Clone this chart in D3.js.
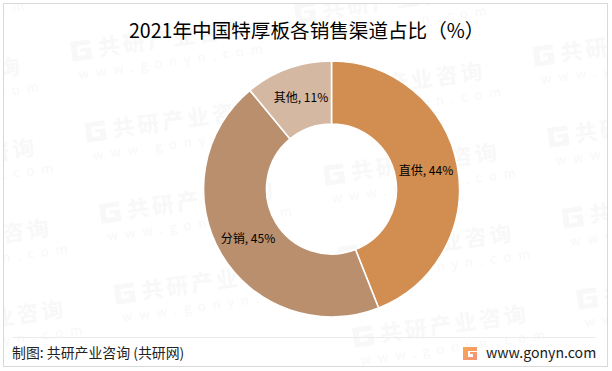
<!DOCTYPE html>
<html><head><meta charset="utf-8">
<script src="https://d3js.org/d3.v7.min.js"></script>
<style>html,body{margin:0;padding:0;background:#fff}svg{display:block}text{font-family:"Noto Sans CJK SC","Noto Sans",sans-serif}</style>
</head><body><svg id="c" width="612" height="371"></svg>
<script>
const categories = ["直供", "分销", "其他"];
const values = [44, 45, 11];
const colors = ["#d28d50", "#b98f6e", "#d4b8a2"];
const titleText = "2021年中国特厚板各销售渠道占比（%）";
const sourceText = "制图: 共研产业咨询 (共研网)";
const siteText = "www.gonyn.com";
const watermarkName = "共研产业咨询";
const watermarkUrl = "www.gonyn.com";
const svg = d3.select("#c");
const defs=svg.append("defs");
defs.append("clipPath").attr("id","frame").append("rect").attr("x",4).attr("y",4).attr("width",603).attr("height",362);
const wm = svg.append("g").attr("clip-path","url(#frame)");
function mark(g,x,y,fill){
  const m=g.append("g").attr("transform",`translate(${x},${y}) rotate(-8)`);
  m.append("path").attr("d","M0 0H20V5H6V15H14V11H9V8H20V20H0Z").attr("fill",fill);
  m.append("text").attr("x",27).attr("y",18).attr("font-size",22).attr("letter-spacing",3).attr("font-weight",700).attr("fill",fill).text(watermarkName);
  m.append("text").attr("x",4).attr("y",38).attr("font-size",13).attr("letter-spacing",7).attr("fill",fill).text(watermarkUrl);
}
for(let c=0;c<4;c++)for(let r=-1;r<6;r++){
  const x=-154+224*c+14.5*r, y=80-38*c+81*r;
  if(x>-200&&x<605&&y>-45&&y<366) mark(wm,x,y,"#f8f8f8");
}
svg.append("rect").attr("x",3.5).attr("y",3.5).attr("width",604).attr("height",363).attr("fill","none").attr("stroke","#d9d9d9");
const cx=331.5, cy=189, R=128, r0=65;
const pie=d3.pie().sort(null).value(d=>d)(values);
const arc=d3.arc().innerRadius(r0).outerRadius(R);
const g=svg.append("g").attr("transform",`translate(${cx},${cy})`);
g.selectAll("path").data(pie).join("path").attr("d",arc).attr("fill",(d,i)=>colors[i]).attr("stroke","#fff").attr("stroke-width",1.6);
const labelPos=[[426,175],[248,243],[301,102]];
svg.selectAll(".lab").data(pie).join("text").attr("class","lab").attr("x",(d,i)=>labelPos[i][0]).attr("y",(d,i)=>labelPos[i][1]).attr("text-anchor","middle").attr("font-size",12).attr("fill","#000").text((d,i)=>`${categories[i]}, ${values[i]}%`);
svg.append("text").attr("x",129).attr("y",38).attr("font-size",19.6).attr("fill","#000").text(titleText);
svg.append("line").attr("x1",12).attr("x2",596).attr("y1",337.5).attr("y2",337.5).attr("stroke","#ebebeb");
svg.append("text").attr("x",12).attr("y",358).attr("font-size",13.9).attr("fill","#222").text(sourceText);
const lg=defs.append("linearGradient").attr("id","lg").attr("x1",0).attr("x2",1).attr("y1",0).attr("y2",1);
lg.append("stop").attr("offset",0).attr("stop-color","#f7a84e");lg.append("stop").attr("offset",1).attr("stop-color","#f59080");
svg.append("path").attr("d","M463 347H477V351H468V357H473V354H470V352H477V360H463Z").attr("fill","url(#lg)");
svg.append("text").attr("x",486).attr("y",358).attr("font-size",14.1).attr("font-family","Noto Sans").attr("fill","#1a1a1a").text(siteText);
</script></body></html>
